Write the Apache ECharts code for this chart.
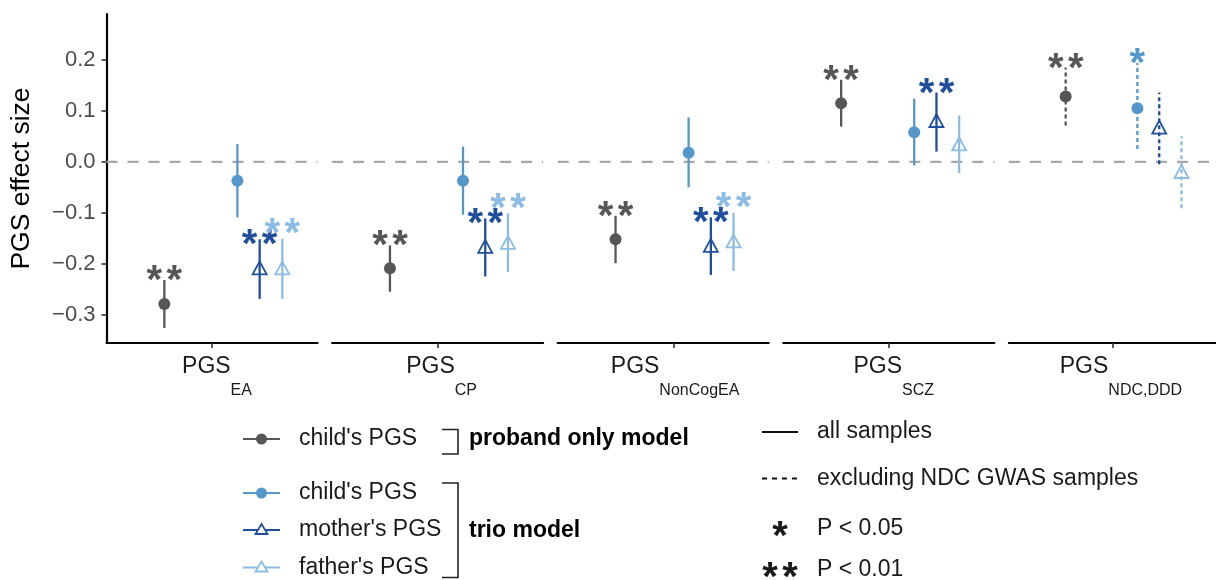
<!DOCTYPE html>
<html><head><meta charset="utf-8">
<script src="https://cdn.jsdelivr.net/npm/echarts@6/dist/echarts.min.js"></script>
<style>html,body{margin:0;padding:0;background:#fff}#c{width:1216px;height:580px}</style>
</head><body><div id="c"></div><script>
// ---------- data ----------
const categories = ['EA', 'CP', 'NonCogEA', 'SCZ', 'NDC,DDD'];
const axisPrefix = 'PGS';
const yTickValues = [-0.3, -0.2, -0.1, 0.0, 0.1, 0.2];
const yAxisTitle = 'PGS effect size';
const referenceValue = 0;

const probandEst = [-0.279, -0.209, -0.152, 0.115, 0.128];
const probandLo  = [-0.326, -0.255, -0.199, 0.069, 0.071];
const probandHi  = [-0.232, -0.164, -0.106, 0.161, 0.185];
const probandSig = ['**', '**', '**', '**', '**'];

const trioChildEst = [-0.037, -0.037, 0.018, 0.058, 0.105];
const trioChildLo  = [-0.109, -0.104, -0.050, -0.007, 0.025];
const trioChildHi  = [0.035, 0.030, 0.087, 0.124, 0.194];
const trioChildSig = ['', '', '', '', '*'];

const motherEst = [-0.208, -0.166, -0.164, 0.081, 0.068];
const motherLo  = [-0.269, -0.225, -0.222, 0.020, -0.005];
const motherHi  = [-0.152, -0.111, -0.109, 0.136, 0.136];
const motherSig = ['**', '**', '**', '**', ''];

const fatherEst = [-0.208, -0.158, -0.155, 0.035, -0.019];
const fatherLo  = [-0.269, -0.216, -0.214, -0.022, -0.091];
const fatherHi  = [-0.151, -0.101, -0.100, 0.091, 0.050];
const fatherSig = ['**', '**', '**', '', ''];

// 1 = excluding NDC GWAS samples (dashed), 0 = all samples
const excludingNDC = [0, 0, 0, 0, 1];

const groupLabels = ["child's PGS", "child's PGS", "mother's PGS", "father's PGS"];
const modelLabels = ['proband only model', 'trio model'];
const sampleLabels = ['all samples', 'excluding NDC GWAS samples'];
const sigMarks = ['*', '**'];
const sigLabels = ['P < 0.05', 'P < 0.01'];

// ---------- style / layout ----------
const FONT = '"Liberation Sans", Arial, Helvetica, sans-serif';
const COLORS = ['#565656', '#5497CB', '#1F4E9D', '#8CBCE3'];
const SHAPES = ['circle', 'circle', 'triangle', 'triangle'];
const DODGE = [-0.271, 0.1445, 0.271, 0.400];
const TICK_POS = [0, 0, 0.062, 0, 0];
const LABEL_PAD = [10, 8, 2, 10, 17];
const PANEL_LEFT0 = 106.5, PANEL_STEP = 225.6, PANEL_W = 211, PANEL_TOP = 14, PANEL_H = 329;
const Y_MIN = -0.3555, Y_MAX = 0.29;
const STAR_SIZE = 40;

const sets = [
  [probandEst, probandLo, probandHi, probandSig],
  [trioChildEst, trioChildLo, trioChildHi, trioChildSig],
  [motherEst, motherLo, motherHi, motherSig],
  [fatherEst, fatherLo, fatherHi, fatherSig]
];

function starTexts(sig, cx, yTop, color, size) {
  const out = [];
  const n = sig.length;
  for (let k = 0; k < n; k++) {
    out.push({
      type: 'text',
      x: cx + (k - (n - 1) / 2) * 20,
      y: yTop,
      style: { text: sig[k], fill: color, fontSize: size, fontWeight: 'bold', fontFamily: FONT, align: 'center', verticalAlign: 'middle' }
    });
  }
  return out;
}

function makeRender(panel) {
  const parentsBoth = !!(motherSig[panel] && fatherSig[panel]);
  return function (params, api) {
    const g = api.value(0);
    const est = api.value(1), lo = api.value(2), hi = api.value(3);
    const x = DODGE[g];
    const pE = api.coord([x, est]), pL = api.coord([x, lo]), pH = api.coord([x, hi]);
    const color = COLORS[g];
    const dashed = excludingNDC[panel] === 1;
    const children = [{
      type: 'line',
      shape: { x1: pL[0], y1: pL[1], x2: pH[0], y2: pH[1] },
      style: { stroke: color, lineWidth: 2.3, lineDash: dashed ? [4, 3] : null }
    }];
    if (SHAPES[g] === 'circle') {
      children.push({ type: 'circle', shape: { cx: pE[0], cy: pE[1], r: 6 }, style: { fill: color } });
    } else {
      children.push({
        type: 'polygon',
        shape: { points: [[pE[0] - 7, pE[1] + 6.5], [pE[0] + 7, pE[1] + 6.5], [pE[0], pE[1] - 6.5]] },
        style: { fill: 'none', stroke: color, lineWidth: 1.8 }
      });
    }
    const sig = sets[g][3][panel];
    let nudge = 0;
    if (parentsBoth) nudge = g === 2 ? 4.5 : (g === 3 ? -5.5 : 0);
    if (sig) children.push(...starTexts(sig, pH[0], pH[1] + 2 + nudge, color, STAR_SIZE));
    return { type: 'group', children };
  };
}

const grids = [], xAxes = [], yAxes = [], series = [];
categories.forEach((cat, i) => {
  grids.push({ left: PANEL_LEFT0 + i * PANEL_STEP, top: PANEL_TOP, width: PANEL_W, height: PANEL_H, containLabel: false });
  xAxes.push({
    type: 'value', gridIndex: i, min: -0.6, max: 0.6,
    splitLine: { show: false },
    axisLine: { show: true, onZero: false, lineStyle: { color: '#000', width: 2.2 } },
    axisTick: { show: true, customValues: [TICK_POS[i]], length: 5, lineStyle: { color: '#333', width: 1.6 } },
    axisLabel: {
      show: true, customValues: [TICK_POS[i]], margin: 12,
      formatter: () => '{m|' + axisPrefix + '}{s|' + cat + '}',
      rich: {
        m: { fontSize: 23, lineHeight: 26, fontFamily: FONT, color: '#1a1a1a', verticalAlign: 'top', padding: [0, 0, 0, LABEL_PAD[i]] },
        s: { fontSize: 16, lineHeight: 18, fontFamily: FONT, color: '#1a1a1a', padding: [28, 0, 0, 0], verticalAlign: 'top' }
      }
    }
  });
  const first = i === 0;
  yAxes.push({
    type: 'value', gridIndex: i, min: Y_MIN, max: Y_MAX,
    splitLine: { show: false },
    axisLine: { show: first, onZero: false, lineStyle: { color: '#000', width: 2.2 } },
    axisTick: { show: first, customValues: yTickValues, length: 5, lineStyle: { color: '#333', width: 1.6 } },
    axisLabel: {
      show: first, customValues: yTickValues, margin: 11,
      fontSize: 22, fontFamily: FONT, color: '#4d4d4d',
      formatter: v => (v < -1e-9 ? '\u2212' : '') + Math.abs(v).toFixed(1)
    },
    name: first ? yAxisTitle : '', nameLocation: 'middle', nameRotate: 90, nameGap: 71,
    nameTextStyle: { fontSize: 26.5, fontFamily: FONT, color: '#000' }
  });
  // zero reference line
  series.push({
    type: 'custom', xAxisIndex: i, yAxisIndex: i, z: 1, silent: true,
    data: [[referenceValue]],
    renderItem: (params, api) => {
      const a = api.coord([-0.6, api.value(0)]), b = api.coord([0.6, api.value(0)]);
      return { type: 'line', shape: { x1: a[0], y1: a[1], x2: b[0], y2: b[1] },
               style: { stroke: '#a8a8a8', lineWidth: 2.2, lineDash: [11, 10] } };
    }
  });
  series.push({
    type: 'custom', xAxisIndex: i, yAxisIndex: i, z: 3, silent: true,
    data: sets.map((s, g) => [g, s[0][i], s[1][i], s[2][i]]),
    renderItem: makeRender(i)
  });
});

// ---------- legend (graphic) ----------
const graphic = [];
const rowY = [439, 493, 530, 567.5];
groupLabels.forEach((lab, g) => {
  const y = rowY[g], c = COLORS[g];
  graphic.push({ type: 'line', shape: { x1: 243, y1: y, x2: 280, y2: y }, style: { stroke: c, lineWidth: 2.2 } });
  if (SHAPES[g] === 'circle') {
    graphic.push({ type: 'circle', shape: { cx: 261.5, cy: y, r: 5.5 }, style: { fill: c } });
  } else {
    graphic.push({ type: 'polygon', shape: { points: [[255.5, y + 4], [267.5, y + 4], [261.5, y - 6]] },
                   style: { fill: '#fff', stroke: c, lineWidth: 1.8 } });
  }
  graphic.push({ type: 'text', x: 299, y: y, style: { text: lab, fontSize: 23, fontFamily: FONT, fill: '#1a1a1a', verticalAlign: 'middle' } });
});
graphic.push({ type: 'polyline', shape: { points: [[442, 429.5], [458, 429.5], [458, 454], [442, 454]] }, style: { stroke: '#222', lineWidth: 1.6, fill: 'none' } });
graphic.push({ type: 'polyline', shape: { points: [[442, 483], [458, 483], [458, 577.5], [442, 577.5]] }, style: { stroke: '#222', lineWidth: 1.6, fill: 'none' } });
graphic.push({ type: 'text', x: 469, y: 439, style: { text: modelLabels[0], fontSize: 23, fontWeight: 'bold', fontFamily: FONT, fill: '#000', verticalAlign: 'middle' } });
graphic.push({ type: 'text', x: 469, y: 531, style: { text: modelLabels[1], fontSize: 23, fontWeight: 'bold', fontFamily: FONT, fill: '#000', verticalAlign: 'middle' } });

graphic.push({ type: 'line', shape: { x1: 762, y1: 432, x2: 798, y2: 432 }, style: { stroke: '#111', lineWidth: 2.2 } });
graphic.push({ type: 'line', shape: { x1: 762, y1: 478.5, x2: 798, y2: 478.5 }, style: { stroke: '#111', lineWidth: 2.2, lineDash: [5, 5] } });
graphic.push({ type: 'text', x: 817, y: 432, style: { text: sampleLabels[0], fontSize: 23, fontFamily: FONT, fill: '#1a1a1a', verticalAlign: 'middle' } });
graphic.push({ type: 'text', x: 817, y: 478.5, style: { text: sampleLabels[1], fontSize: 23, fontFamily: FONT, fill: '#1a1a1a', verticalAlign: 'middle' } });
const sigY = [529, 570];
sigMarks.forEach((m, k) => {
  starTexts(m, 780, sigY[k] + 9, '#1a1a1a', STAR_SIZE).forEach(t => graphic.push(t));
  graphic.push({ type: 'text', x: 817, y: sigY[k], style: { text: sigLabels[k], fontSize: 23, fontFamily: FONT, fill: '#1a1a1a', verticalAlign: 'middle' } });
});

const chart = echarts.init(document.getElementById('c'), null, { renderer: 'canvas' });
chart.setOption({
  animation: false,
  backgroundColor: '#fff',
  grid: grids, xAxis: xAxes, yAxis: yAxes, series: series,
  graphic: graphic
});
</script></body></html>
